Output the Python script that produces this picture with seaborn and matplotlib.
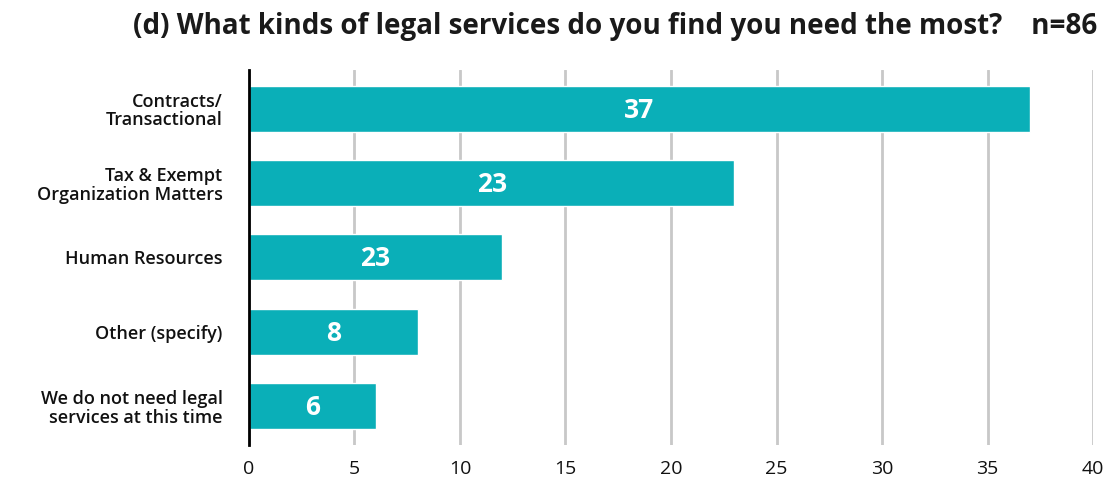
import matplotlib
matplotlib.use('Agg')
import matplotlib.pyplot as plt
import seaborn as sns
import pandas as pd

categories = ['Contracts/\nTransactional',
              'Tax & Exempt\nOrganization Matters',
              'Human Resources',
              'Other (specify)',
              'We do not need legal\nservices at this time']
counts = [37, 23, 12, 8, 6]
# labels as printed on the bars in the original
bar_labels = ['37', '23', '23', '8', '6']
xticks = [0, 5, 10, 15, 20, 25, 30, 35, 40]

title = '(d) What kinds of legal services do you find you need the most?    n=86'

sns.set_style('white')
plt.rcParams['font.family'] = ['Open Sans', 'DejaVu Sans']

df = pd.DataFrame({'category': categories, 'count': counts})

fig = plt.figure(figsize=(11.08, 4.83), dpi=100)
ax = fig.add_axes([0.2247, 0.079, 0.7618, 0.776])

sns.barplot(data=df, x='count', y='category', color='#0AAFB8',
            saturation=1, width=0.62, ax=ax)

ax.set_xlim(0, 40)
ax.set_ylim(4.52, -0.52)
ax.set_xticks(xticks)
ax.set_xticklabels([str(t) for t in xticks], fontsize=14, color='#111111')
ax.set_xlabel('')
ax.set_ylabel('')
ax.tick_params(axis='x', length=0, pad=11)
ax.tick_params(axis='y', length=0, pad=19)
for lab in ax.get_yticklabels():
    lab.set_fontsize(13)
    lab.set_fontweight('semibold')
    lab.set_color('#111111')
    lab.set_horizontalalignment('right')
    lab.set_multialignment('right')
    lab.set_linespacing(1.05)

ax.grid(axis='x', color='#C8C8C8', linewidth=2)
ax.set_axisbelow(True)
for s in ['top', 'right', 'bottom']:
    ax.spines[s].set_visible(False)
ax.spines['left'].set_color('black')
ax.spines['left'].set_linewidth(2)
ax.spines['left'].set_zorder(5)

for i, (v, t) in enumerate(zip(counts, bar_labels)):
    ax.text(v / 2, i + 0.02, t, ha='center', va='center', color='white',
            fontsize=19, fontweight='bold')

fig.text(0.99, 0.945, title, ha='right', va='center', fontsize=20,
         fontweight='bold', color='#1a1a1a')

fig.savefig('out.png', dpi=100)
